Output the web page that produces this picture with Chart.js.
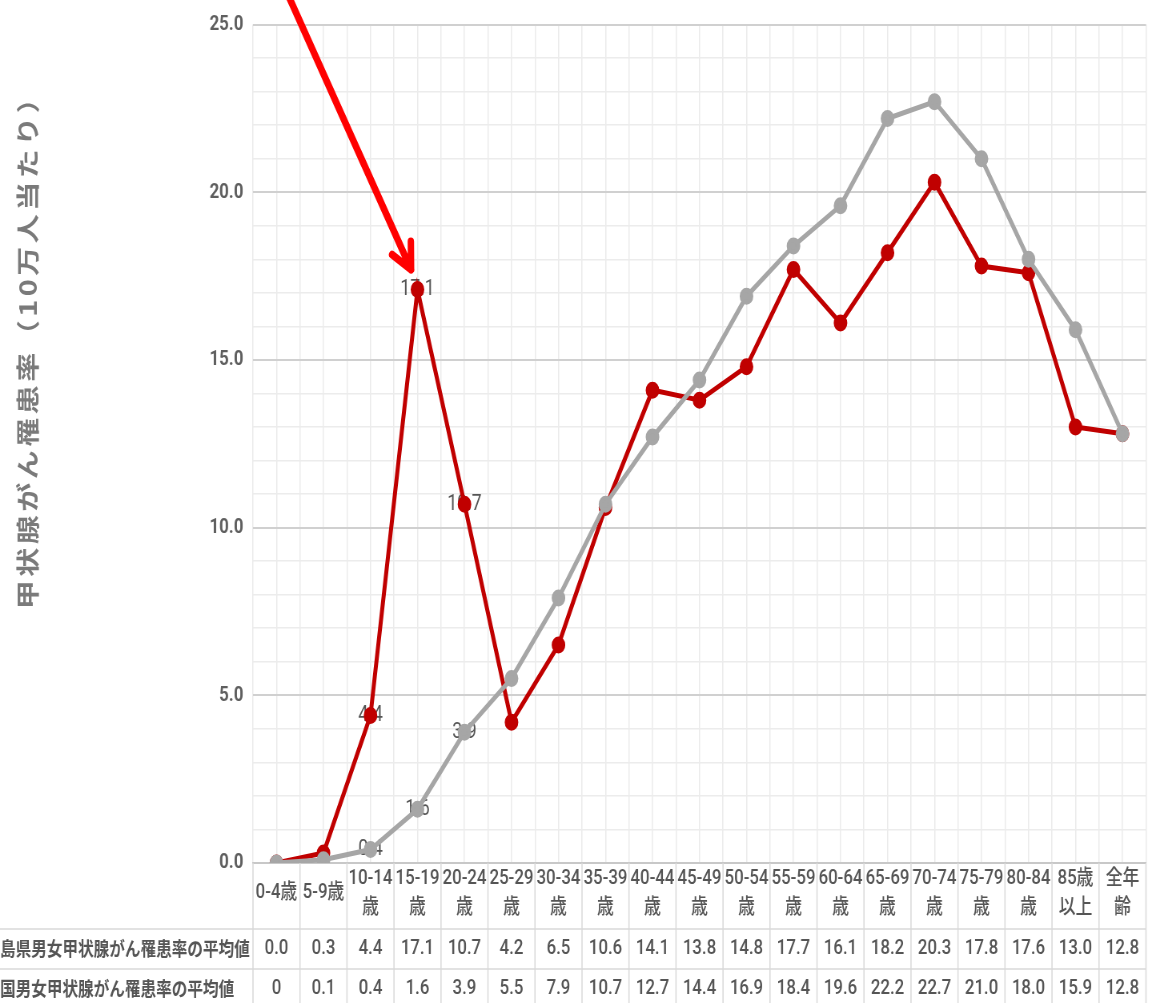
<!DOCTYPE html>
<html lang="ja">
<head>
<meta charset="utf-8">
<script src="https://cdn.jsdelivr.net/npm/chart.js@4.4.1/dist/chart.umd.min.js"></script>
<style>
  html, body { margin: 0; padding: 0; background: #fff; overflow: hidden; }
  /* the reference is horizontally squeezed, so draw wider and squeeze the whole canvas */
  #wrap { width: 1442.5px; height: 1003px; transform: scaleX(0.8); transform-origin: 0 0; }
</style>
</head>
<body>
<div id="wrap"><canvas id="thyroidChart"></canvas></div>
<script>
const ageLabels = [
    ['0-4歳'], ['5-9歳'], ['10-14', '歳'], ['15-19', '歳'], ['20-24', '歳'], ['25-29', '歳'],
    ['30-34', '歳'], ['35-39', '歳'], ['40-44', '歳'], ['45-49', '歳'], ['50-54', '歳'],
    ['55-59', '歳'], ['60-64', '歳'], ['65-69', '歳'], ['70-74', '歳'], ['75-79', '歳'],
    ['80-84', '歳'], ['85歳', '以上'], ['全年', '齢']
];
const fukushimaRates = [0.0, 0.3, 4.4, 17.1, 10.7, 4.2, 6.5, 10.6, 14.1, 13.8, 14.8, 17.7, 16.1, 18.2, 20.3, 17.8, 17.6, 13.0, 12.8];
const nationalRates = [0, 0.1, 0.4, 1.6, 3.9, 5.5, 7.9, 10.7, 12.7, 14.4, 16.9, 18.4, 19.6, 22.2, 22.7, 21.0, 18.0, 15.9, 12.8];
const fukushimaLabelled = [2, 3, 4];
const nationalLabelled = [2, 3, 4];
const fukushimaRowName = '福島県男女甲状腺がん罹患率の平均値';
const nationalRowName = '全国男女甲状腺がん罹患率の平均値';
const yTitle = '甲状腺がん罹患率（10万人当たり）';

const RED = '#c00000';
const GRAY = '#a6a6a6';
const TEXT = '#555555';
const NUM_FONT = 'Roboto, "Noto Sans CJK JP", sans-serif';
const JP_FONT = '"Noto Sans CJK JP", sans-serif';

const tableRows = [
    { name: fukushimaRowName, values: fukushimaRates, fmt: v => v.toFixed(1) },
    { name: nationalRowName, values: nationalRates, fmt: v => (v === 0 ? '0' : v.toFixed(1)) }
];

// value labels sit under the lines, like in the original
const pointLabels = {
    id: 'pointLabels',
    beforeDatasetsDraw(chart) {
        const ctx = chart.ctx;
        ctx.save();
        ctx.font = '22px ' + NUM_FONT;
        ctx.fillStyle = TEXT;
        ctx.textAlign = 'center';
        ctx.textBaseline = 'middle';
        chart.data.datasets.forEach((ds, di) => {
            const meta = chart.getDatasetMeta(di);
            ds.labelled.forEach(i => {
                const p = meta.data[i];
                ctx.fillText(ds.data[i].toFixed(1), p.x, p.y);
            });
        });
        ctx.restore();
    }
};

const extras = {
    id: 'extras',
    afterDraw(chart) {
        const ctx = chart.ctx;
        const x = chart.scales.x;
        const area = chart.chartArea;
        const n = ageLabels.length;
        const colW = (area.right - area.left) / n;

        // y axis title
        ctx.save();
        ctx.translate(35, 345);
        ctx.rotate(-Math.PI / 2);
        ctx.font = 'bold 29px ' + JP_FONT;
        ctx.letterSpacing = '3.5px';
        ctx.fillStyle = '#7a7a7a';
        ctx.textAlign = 'center';
        ctx.textBaseline = 'middle';
        ctx.fillText(yTitle, 0, 0);
        ctx.restore();

        // data table under the plot
        const top = area.bottom;
        const row1 = top + 66;
        const row2 = row1 + 40;
        ctx.save();
        ctx.strokeStyle = '#d9d9d9';
        ctx.lineWidth = 1.5;
        ctx.beginPath();
        for (let i = 0; i <= n; i++) {
            const bx = area.left + i * colW;
            ctx.moveTo(bx, top);
            ctx.lineTo(bx, chart.height);
        }
        [row1, row2].forEach(y => {
            ctx.moveTo(0, y);
            ctx.lineTo(area.right, y);
        });
        ctx.stroke();

        ctx.fillStyle = TEXT;
        ctx.textAlign = 'center';
        ctx.textBaseline = 'middle';
        ctx.font = '500 21px ' + NUM_FONT;
        ageLabels.forEach((lines, i) => {
            const cx = x.getPixelForValue(i);
            if (lines.length === 1) {
                ctx.fillText(lines[0], cx, top + 30);
            } else {
                ctx.fillText(lines[0], cx, top + 16);
                ctx.fillText(lines[1], cx, top + 45);
            }
        });

        tableRows.forEach((row, r) => {
            const cy = (r === 0 ? row1 : row2) + 20;
            ctx.font = '500 21px ' + NUM_FONT;
            ctx.textAlign = 'center';
            row.values.forEach((v, i) => {
                ctx.fillText(row.fmt(v), x.getPixelForValue(i), cy);
            });
            ctx.font = 'bold 19.5px ' + JP_FONT;
            ctx.textAlign = 'left';
            ctx.fillText(row.name, -19.5, cy);
        });
        ctx.restore();

        // red arrow pointing at the 15-19 peak
        const peak = chart.getDatasetMeta(1).data[3];
        const tipX = peak.x - 8, tipY = peak.y - 20;
        const len = Math.hypot(150, 268);
        const dx = 150 / len, dy = 268 / len;
        const back = Math.atan2(-dy, -dx);
        ctx.save();
        ctx.strokeStyle = '#ff0000';
        ctx.lineWidth = 8;
        ctx.lineCap = 'round';
        ctx.lineJoin = 'round';
        ctx.beginPath();
        ctx.moveTo(tipX - dx * 320, tipY - dy * 320);
        ctx.lineTo(tipX, tipY);
        ctx.moveTo(tipX + Math.cos(back - 0.5) * 28, tipY + Math.sin(back - 0.5) * 28);
        ctx.lineTo(tipX, tipY);
        ctx.lineTo(tipX + Math.cos(back + 0.5) * 28, tipY + Math.sin(back + 0.5) * 28);
        ctx.stroke();
        ctx.restore();
    }
};

const ctx = document.getElementById('thyroidChart').getContext('2d');
new Chart(ctx, {
    type: 'line',
    data: {
        labels: ageLabels,
        datasets: [
            {
                label: nationalRowName,
                data: nationalRates,
                labelled: nationalLabelled,
                borderColor: GRAY,
                backgroundColor: GRAY,
                borderWidth: 5,
                pointRadius: 6,
                tension: 0,
                order: 1
            },
            {
                label: fukushimaRowName,
                data: fukushimaRates,
                labelled: fukushimaLabelled,
                borderColor: RED,
                backgroundColor: RED,
                borderWidth: 5,
                pointRadius: 6,
                tension: 0,
                order: 2
            }
        ]
    },
    options: {
        responsive: true,
        maintainAspectRatio: false,
        animation: false,
        layout: { padding: { top: 23, right: 7.5, bottom: 140, left: 0 } },
        plugins: {
            legend: { display: false },
            tooltip: { enabled: false }
        },
        scales: {
            x: {
                type: 'category',
                offset: true,
                ticks: { display: false },
                grid: { display: false, drawTicks: false },
                border: { display: true, color: '#c8c8c8', width: 2 },
                afterFit: s => { s.height = 0; }
            },
            xg: {
                type: 'linear',
                position: 'bottom',
                min: -0.5,
                max: 18.5,
                ticks: { display: false, stepSize: 0.5 },
                grid: { color: '#ebebeb', lineWidth: 1.5, drawTicks: false },
                border: { display: false },
                afterFit: s => { s.height = 0; }
            },
            y: {
                min: 0,
                max: 25,
                ticks: {
                    stepSize: 1,
                    autoSkip: false,
                    padding: 12,
                    color: '#5f5f5f',
                    font: { family: NUM_FONT, size: 21, weight: 'bold' },
                    callback: v => (v % 5 === 0 ? v.toFixed(1) : '')
                },
                grid: {
                    drawTicks: false,
                    color: c => (c.tick.value % 5 === 0 ? '#d0d0d0' : '#ececec'),
                    lineWidth: c => (c.tick.value % 5 === 0 ? 2 : 1.5)
                },
                border: { display: false },
                afterFit: s => { s.width = 316; }
            }
        }
    },
    plugins: [pointLabels, extras]
});
</script>
</body>
</html>
